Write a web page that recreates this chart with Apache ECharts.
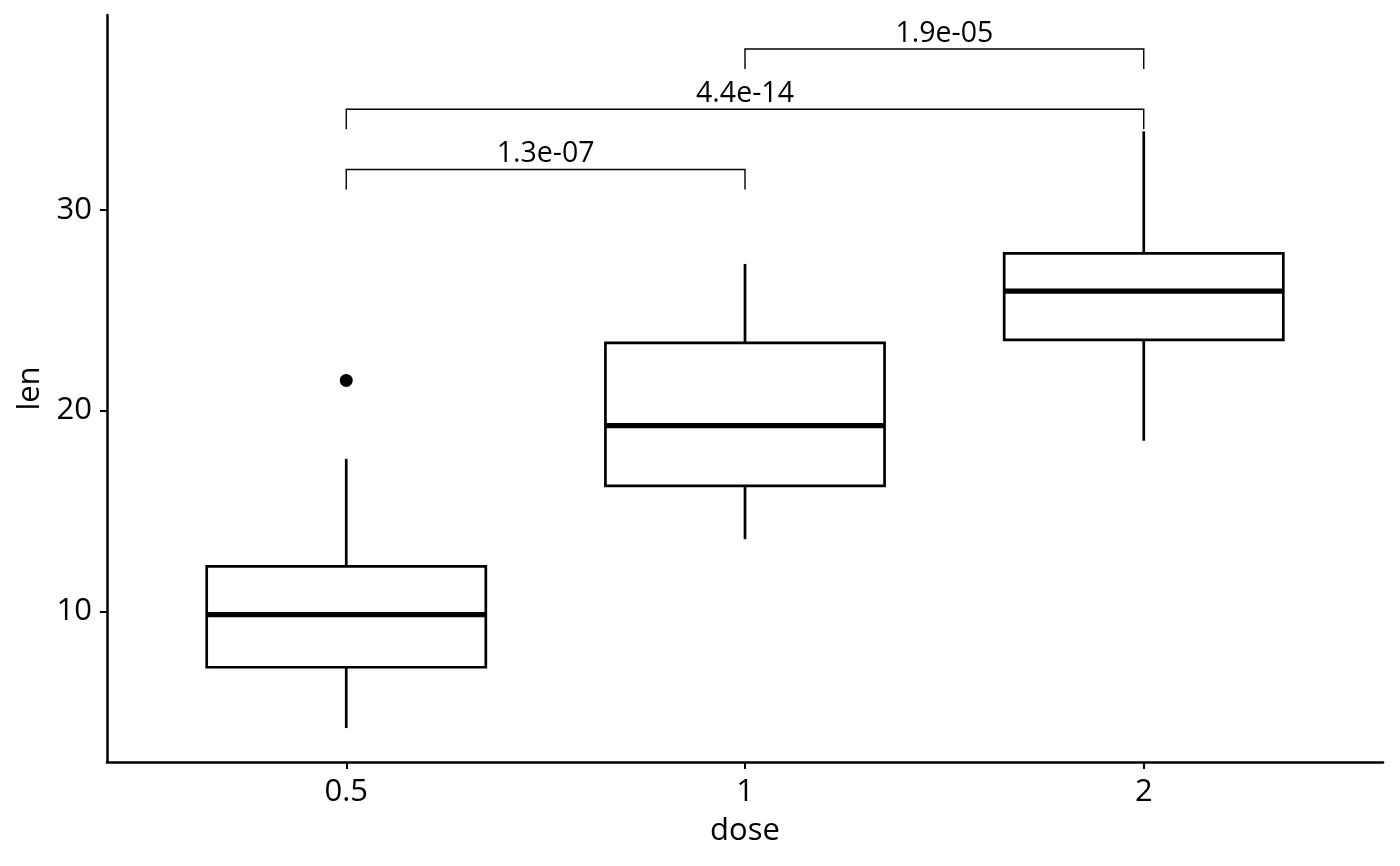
<!DOCTYPE html>
<html>
<head>
<meta charset="utf-8">
<script src="https://cdn.jsdelivr.net/npm/echarts@6/dist/echarts.min.js"></script>
<style>html,body{margin:0;padding:0;background:#fff}#c{width:1400px;height:866px}</style>
</head>
<body>
<div id="c"></div>
<script>
// ---- data ----
const categories = ['0.5', '1', '2'];
const boxMin    = [4.2, 13.6, 18.5];
const boxQ1     = [7.225, 16.25, 23.525];
const boxMedian = [9.85, 19.25, 25.95];
const boxQ3     = [12.25, 23.375, 27.825];
const boxMax    = [17.6, 27.3, 33.9];
const outlierCat = ['0.5'];
const outlierVal = [21.5];
const bracketFrom  = ['0.5', '0.5', '1'];
const bracketTo    = ['1', '2', '2'];
const bracketY     = [32, 35, 38];
const bracketLabel = ['1.3e-07', '4.4e-14', '1.9e-05'];
const yTicks = [10, 20, 30];

// ---- build ----
const FONT = '"Open Sans", "Noto Sans", sans-serif';
const catPos = c => categories.indexOf(c) + 1;
const boxData = categories.map((c, i) => [catPos(c), boxMin[i], boxQ1[i], boxMedian[i], boxQ3[i], boxMax[i]]);
const outData = outlierCat.map((c, i) => [catPos(c), outlierVal[i]]);
const brData = bracketY.map((y, i) => [catPos(bracketFrom[i]), catPos(bracketTo[i]), y, bracketLabel[i]]);
const HALF = 0.35, TIP = 1;

const chart = echarts.init(document.getElementById('c'), null, {renderer: 'canvas'});
chart.setOption({
  animation: false,
  backgroundColor: '#fff',
  grid: {left: 107, right: 17, top: 15, bottom: 104, containLabel: false},
  xAxis: {
    type: 'value', min: 0.4, max: 3.6,
    name: 'dose', nameLocation: 'middle', nameGap: 54,
    nameTextStyle: {fontFamily: FONT, fontSize: 31, color: '#000'},
    axisLine: {show: true, lineStyle: {color: '#000', width: 2.5}},
    axisTick: {show: true, customValues: [1, 2, 3], length: 7, lineStyle: {color: '#000', width: 2}},
    axisLabel: {customValues: [1, 2, 3], formatter: v => categories[Math.round(v) - 1] || '',
      fontFamily: FONT, fontSize: 31, color: '#000', margin: 15},
    splitLine: {show: false}
  },
  yAxis: {
    type: 'value', min: 2.51, max: 39.69,
    name: 'len', nameLocation: 'middle', nameGap: 60, nameRotate: 90,
    nameTextStyle: {fontFamily: FONT, fontSize: 31, color: '#000'},
    axisLine: {show: true, lineStyle: {color: '#000', width: 2.5}},
    axisTick: {show: true, customValues: yTicks, length: 7, lineStyle: {color: '#000', width: 2}},
    axisLabel: {customValues: yTicks, fontFamily: FONT, fontSize: 31, color: '#000', margin: 15},
    splitLine: {show: false}
  },
  series: [
    {
      type: 'custom',
      data: boxData,
      encode: {x: 0, y: [1, 2, 3, 4, 5]},
      renderItem: function (params, api) {
        const x = api.value(0);
        const pMin = api.coord([x, api.value(1)]);
        const pQ1 = api.coord([x, api.value(2)]);
        const pMed = api.coord([x, api.value(3)]);
        const pQ3 = api.coord([x, api.value(4)]);
        const pMax = api.coord([x, api.value(5)]);
        const xl = api.coord([x - HALF, 0])[0];
        const xr = api.coord([x + HALF, 0])[0];
        const ls = {stroke: '#000', lineWidth: 2.7};
        return {
          type: 'group',
          children: [
            {type: 'line', shape: {x1: pMax[0], y1: pMax[1], x2: pQ3[0], y2: pQ3[1]}, style: ls},
            {type: 'line', shape: {x1: pQ1[0], y1: pQ1[1], x2: pMin[0], y2: pMin[1]}, style: ls},
            {type: 'rect', shape: {x: xl, y: pQ3[1], width: xr - xl, height: pQ1[1] - pQ3[1]},
              style: {fill: '#fff', stroke: '#000', lineWidth: 2.7}},
            {type: 'line', shape: {x1: xl, y1: pMed[1], x2: xr, y2: pMed[1]}, style: {stroke: '#000', lineWidth: 5.3}}
          ]
        };
      },
      z: 2
    },
    {
      type: 'scatter',
      data: outData,
      symbol: 'circle', symbolSize: 13,
      itemStyle: {color: '#000', opacity: 1},
      z: 3
    },
    {
      type: 'custom',
      data: brData,
      encode: {x: [0, 1], y: 2},
      renderItem: function (params, api) {
        const x1 = api.value(0), x2 = api.value(1), y = api.value(2);
        const a = api.coord([x1, y - TIP]);
        const b = api.coord([x1, y]);
        const c = api.coord([x2, y]);
        const d = api.coord([x2, y - TIP]);
        const mid = api.coord([(x1 + x2) / 2, y]);
        return {
          type: 'group',
          children: [
            {type: 'polyline', shape: {points: [a, b, c, d]}, style: {stroke: '#000', lineWidth: 1.4, fill: null}},
            {type: 'text', x: mid[0], y: mid[1] - 1,
              style: {text: brData[params.dataIndex][3], fontFamily: FONT, fontSize: 28.5, fill: '#000',
                align: 'center', verticalAlign: 'bottom'}}
          ]
        };
      },
      z: 4
    }
  ]
});
</script>
</body>
</html>
